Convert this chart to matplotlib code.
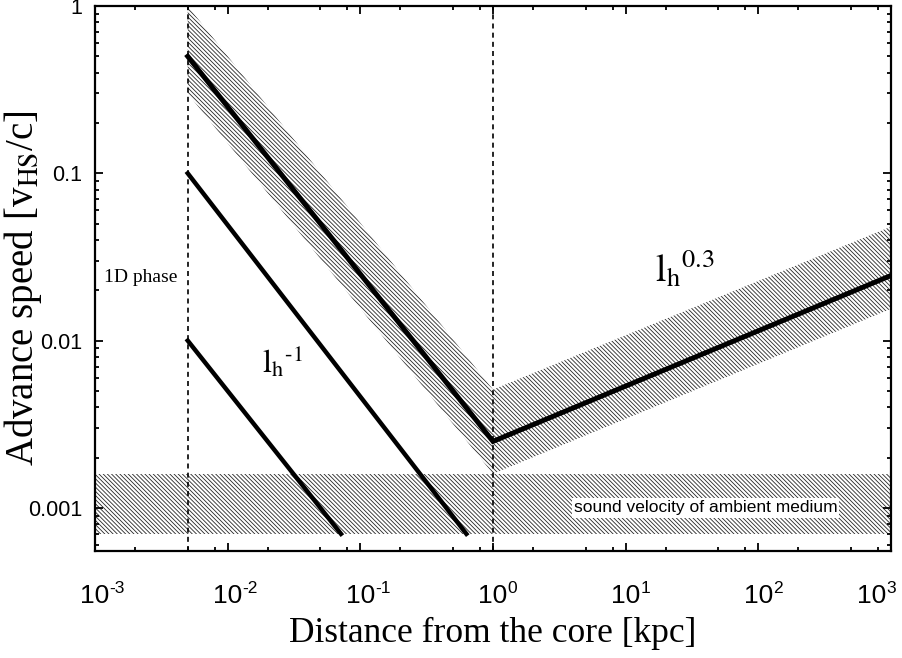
import math
import matplotlib
matplotlib.use("Agg")
import matplotlib.pyplot as plt
from matplotlib.ticker import LogLocator, FixedLocator, NullFormatter

plt.rcParams['mathtext.fontset'] = 'stix'
plt.rcParams['hatch.linewidth'] = 0.6

# hot spot advance speed (main line + band)
dist = [5e-3, 1.0, 1e3]
v_main = [0.5, 0.0025, 0.0245]
v_upper = [1.0, 0.0051, 0.048]
v_lower = [0.30, 0.0016, 0.0155]

# l_h^-1 lines
line2_x = [5e-3, 0.63]
line2_y = [0.1, 7e-4]
line3_x = [5e-3, 0.0715]
line3_y = [0.01, 7e-4]

# ambient sound velocity band
sound_x = [1e-3, 1e3]
sound_lo = [7e-4, 7e-4]
sound_hi = [1.6e-3, 1.6e-3]

phase_bounds = [5e-3, 1.0]

xticks = [1e-3, 1e-2, 1e-1, 1e0, 1e1, 1e2, 1e3]
xexp = ["-3", "-2", "-1", "0", "1", "2", "3"]
yticks = [0.001, 0.01, 0.1, 1]
ytick_labels = ["0.001", "0.01", "0.1", "1"]

fig = plt.figure(figsize=(9.02, 6.58), dpi=100)
ax = fig.add_axes([95/902, 1-551/658, 796/902, 545/658])
ax.set_xscale('log')
ax.set_yscale('log')
ax.set_xlim(1e-3, 1e3)
ax.set_ylim(5.53e-4, 1.0)

hatch_kw = dict(facecolor='none', edgecolor='0.15', linewidth=0, hatch='\\' * 8)
ax.fill_between(sound_x, sound_lo, sound_hi, zorder=1, **hatch_kw)
ax.fill_between(dist, v_lower, v_upper, zorder=1, **hatch_kw)

for xb in phase_bounds:
    ax.axvline(xb, color='black', lw=1.2, ls=(0, (3, 2.5)), zorder=2)

ax.plot(dist, v_main, color='black', lw=3.6, zorder=3, solid_joinstyle='miter')
ax.plot(line2_x, line2_y, color='black', lw=3.2, zorder=3)
ax.plot(line3_x, line3_y, color='black', lw=3.2, zorder=3)

ax.text(40, 0.001, "sound velocity of ambient medium", family='Liberation Sans', fontsize=12.5,
        ha='center', va='center', zorder=4,
        bbox=dict(facecolor='white', edgecolor='none', pad=1.5))
ax.text(2.2e-3, 0.024, "1D phase", family='Liberation Serif', fontsize=14,
        ha='center', va='center', zorder=4)
ax.text(0.026, 0.0075, "$\\mathrm{l_h}^{\\mathrm{\u20101}}$", fontsize=23, ha='center', va='center')
ax.text(28, 0.027, r"$\mathrm{l_h}^{\mathrm{0.3}}$", fontsize=27, ha='center', va='center')

ax.xaxis.set_major_locator(FixedLocator(xticks))
ax.xaxis.set_minor_locator(LogLocator(base=10, subs=(2, 5, 8)))
ax.xaxis.set_minor_formatter(NullFormatter())
ax.set_xticklabels([])
ax.yaxis.set_major_locator(FixedLocator(yticks))
ax.set_yticklabels(ytick_labels, family='Liberation Sans')
ax.yaxis.set_minor_locator(LogLocator(base=10, subs=range(2, 10)))
ax.yaxis.set_minor_formatter(NullFormatter())

# x tick labels: "10" centred on the tick with a raised exponent
for t, e in zip(xticks, xexp):
    shift = -13.7 if t == xticks[-1] else 0
    ax.annotate("10", xy=(t, 0), xycoords=('data', 'axes fraction'),
                xytext=(shift, -24), textcoords='offset points',
                ha='center', va='top', family='Liberation Sans', fontsize=19,
                annotation_clip=False)
    ax.annotate(e, xy=(t, 0), xycoords=('data', 'axes fraction'),
                xytext=(shift + 10.5, -21.5), textcoords='offset points',
                ha='left', va='top', family='Liberation Sans', fontsize=12.5,
                annotation_clip=False)

ax.tick_params(which='both', direction='in', top=True, right=True, width=1.3)
ax.tick_params(which='major', length=6, labelsize=15.5, pad=9)
ax.tick_params(which='minor', length=3)
for s in ax.spines.values():
    s.set_linewidth(1.6)

ax.set_xlabel("Distance from the core [kpc]", family='Liberation Serif', fontsize=25.5)
ax.xaxis.set_label_coords(0.5, -0.152)
ax.xaxis.label.set_va('center')
ax.set_ylabel(r"Advance speed [v$_{\mathrm{HS}}$/c]", family='Liberation Serif', fontsize=28)
ax.yaxis.set_label_coords(-0.09, 0.483)
ax.yaxis.label.set_va('center')

fig.savefig("out.png", dpi=100)
